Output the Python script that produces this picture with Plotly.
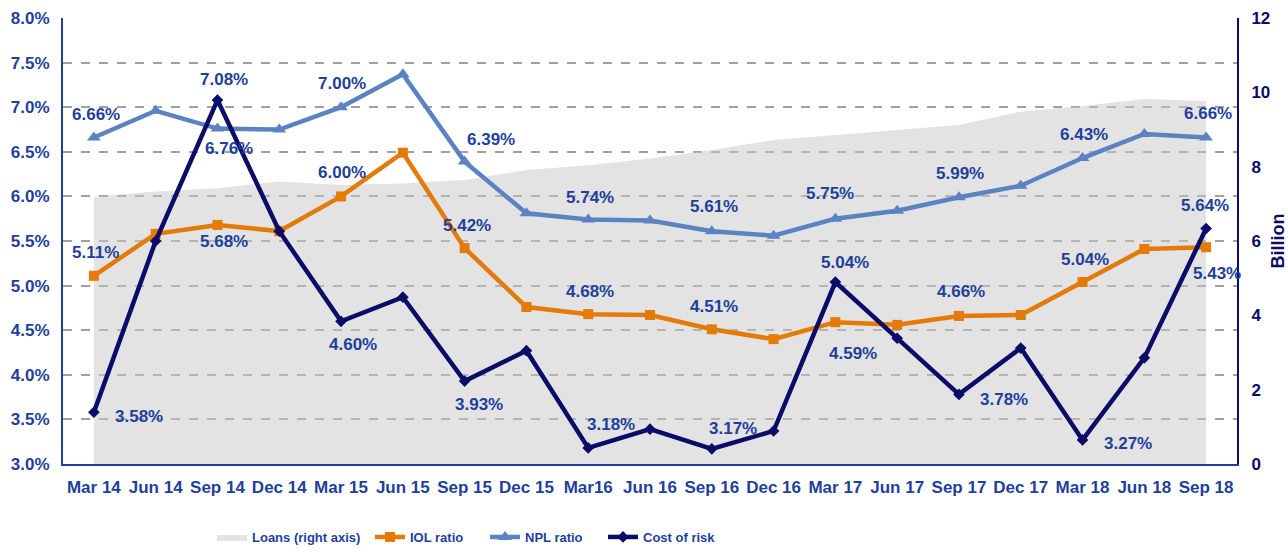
import plotly.graph_objects as go

categories = ["Mar 14", "Jun 14", "Sep 14", "Dec 14", "Mar 15", "Jun 15", "Sep 15",
              "Dec 15", "Mar16", "Jun 16", "Sep 16", "Dec 16", "Mar 17", "Jun 17",
              "Sep 17", "Dec 17", "Mar 18", "Jun 18", "Sep 18"]

loans_bn = [7.19, 7.33, 7.42, 7.60, 7.51, 7.55, 7.64, 7.91, 8.04, 8.22, 8.45, 8.72,
            8.85, 8.99, 9.12, 9.48, 9.63, 9.82, 9.77]
iol_ratio = [5.11, 5.58, 5.68, 5.61, 6.00, 6.49, 5.42, 4.76, 4.68, 4.67, 4.51, 4.40,
             4.59, 4.56, 4.66, 4.67, 5.04, 5.41, 5.43]
npl_ratio = [6.66, 6.96, 6.76, 6.75, 7.00, 7.37, 6.39, 5.81, 5.74, 5.73, 5.61, 5.56,
             5.75, 5.84, 5.99, 6.12, 6.43, 6.70, 6.66]
cost_of_risk = [3.58, 5.50, 7.08, 5.61, 4.60, 4.87, 3.93, 4.27, 3.18, 3.39, 3.17, 3.37,
                5.04, 4.41, 3.78, 4.30, 3.27, 4.19, 5.64]

labelled_idx = [0, 2, 4, 6, 8, 10, 12, 14, 16, 18]
# label offsets (dx, dy in screen px; dy positive = downward)
npl_offsets = [(2, -23), (12, 20), (1, -24), (26, -22), (2, -22), (2, -25), (-5, -25),
               (1, -24), (1, -24), (2, -24)]
iol_offsets = [(2, -23), (7, 17), (1, -24), (2, -23), (2, -23), (2, -23), (18, 31),
               (2, -24), (2, -23), (11, 26)]
cor_offsets = [(45, 4), (7, -21), (12, 23), (14, 23), (23, -23), (21, -20), (10, -20),
               (45, 5), (45, 4), (-1, -23)]

C_IOL = "#E47A07"
C_NPL = "#5B83C2"
C_COR = "#0B0B68"
C_LBL = "#1F3F9C"
C_AX = "#1F3F9C"
FONT = "Liberation Sans"

fig = go.Figure()
# base axis (y) = loans, right side; overlay (y2) = ratios, left side
fig.add_trace(go.Scatter(
    x=categories, y=loans_bn, name="Loans (right axis)", yaxis="y",
    mode="lines", line=dict(width=0, color="rgba(199,199,199,0.5)"),
    fill="tozeroy", fillcolor="rgba(199,199,199,0.5)", legendwidth=113,
    hoverinfo="skip"))
fig.add_trace(go.Scatter(
    x=categories, y=iol_ratio, name="IOL ratio", mode="lines+markers", yaxis="y2",
    line=dict(color=C_IOL, width=4.5),
    marker=dict(symbol="square", size=10, color=C_IOL), legendwidth=70))
fig.add_trace(go.Scatter(
    x=categories, y=npl_ratio, name="NPL ratio", mode="lines+markers", yaxis="y2",
    line=dict(color=C_NPL, width=4.5),
    marker=dict(symbol="triangle-up", size=12, color=C_NPL), legendwidth=73))
fig.add_trace(go.Scatter(
    x=categories, y=cost_of_risk, name="Cost of risk", mode="lines+markers",
    yaxis="y2", line=dict(color=C_COR, width=4.5),
    marker=dict(symbol="diamond", size=9, color=C_COR), legendwidth=80))

annotations = []
for series, offsets in ((npl_ratio, npl_offsets), (iol_ratio, iol_offsets),
                        (cost_of_risk, cor_offsets)):
    for i, (dx, dy) in zip(labelled_idx, offsets):
        annotations.append(dict(
            x=categories[i], y=series[i], xref="x", yref="y2",
            text=f"{series[i]:.2f}%", showarrow=False,
            xshift=dx, yshift=-dy,
            font=dict(family=FONT, size=17, color=C_LBL, weight="bold")))

fig.update_layout(
    width=1288, height=550,
    margin=dict(l=63, r=51, t=18, b=86, autoexpand=False),
    paper_bgcolor="white", plot_bgcolor="white",
    font=dict(family=FONT, color=C_LBL),
    showlegend=True,
    legend=dict(orientation="h", xref="container", yref="container",
                x=212 / 1288, y=1 - 537 / 550, xanchor="left", yanchor="middle",
                font=dict(family=FONT, size=13, color=C_LBL, weight="bold"),
                bgcolor="rgba(0,0,0,0)", traceorder="normal"),
    annotations=annotations,
    xaxis=dict(type="category", range=[-0.5, 18.5], showgrid=False,
               showline=True, linecolor=C_AX, linewidth=2, ticks="",
               tickfont=dict(family=FONT, size=17, color=C_LBL, weight="bold"),
               ticklabelstandoff=7, zeroline=False, automargin=False),
    yaxis=dict(range=[0, 12], dtick=2, side="right",
               showgrid=False, showline=True, linecolor=C_COR, linewidth=2,
               ticks="", zeroline=False, automargin=False,
               tickfont=dict(family=FONT, size=17, color=C_COR, weight="bold"),
               ticklabelstandoff=9,
               title=dict(text="Billion", standoff=8,
                          font=dict(family=FONT, size=18, color=C_COR,
                                    weight="bold"))),
    yaxis2=dict(range=[3, 8], dtick=0.5, tickformat=".1f", ticksuffix="%",
                overlaying="y", side="left",
                showgrid=True, gridcolor="#A0A0A0", griddash="dash", gridwidth=1.5,
                showline=True, linecolor=C_AX, linewidth=2, ticks="",
                tickfont=dict(family=FONT, size=17, color=C_LBL, weight="bold"),
                ticklabelstandoff=8, zeroline=False, automargin=False),
)

fig.write_html("out.html", config={"displayModeBar": False},
               post_script="document.body.style.margin='0';")
